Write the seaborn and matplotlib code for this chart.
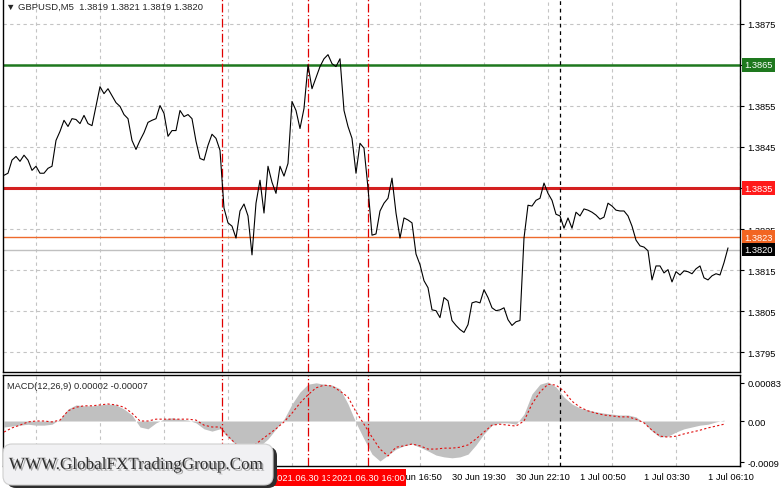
import numpy as np
import pandas as pd
import matplotlib
matplotlib.use("Agg")
import matplotlib.pyplot as plt
import matplotlib.dates as mdates
import matplotlib.patheffects as pe
import matplotlib.transforms as mtransforms
from matplotlib.patches import FancyBboxPatch, Rectangle
import seaborn as sns

sns.set_style("white")
plt.rcParams["font.family"] = ["Liberation Sans", "DejaVu Sans"]
plt.rcParams["axes.unicode_minus"] = False

# ---- data ----
symbol_title = "\u25bc GBPUSD,M5  1.3819 1.3821 1.3819 1.3820"
macd_title = "MACD(12,26,9) 0.00002 -0.00007"

price_start = "2021-06-30 00:50"
price_step = "10min"
close = [
    1.38381, 1.38386, 1.38418, 1.38427, 1.38415, 1.38430, 1.38418, 1.38393, 1.38403, 1.38386,
    1.38386, 1.38398, 1.38403, 1.38466, 1.38488, 1.38515, 1.38500, 1.38519, 1.38517, 1.38507,
    1.38527, 1.38507, 1.38502, 1.38549, 1.38597, 1.38580, 1.38592, 1.38575, 1.38558, 1.38549,
    1.38529, 1.38519, 1.38466, 1.38444, 1.38466, 1.38485, 1.38510, 1.38515, 1.38519, 1.38551,
    1.38532, 1.38476, 1.38490, 1.38490, 1.38539, 1.38524, 1.38529, 1.38519, 1.38464, 1.38422,
    1.38418, 1.38454, 1.38481, 1.38471, 1.38442, 1.38301, 1.38265, 1.38257, 1.38228, 1.38294,
    1.38311, 1.38282, 1.38187, 1.38313, 1.38369, 1.38289, 1.38403, 1.38364, 1.38337, 1.38403,
    1.38379, 1.38410, 1.38561, 1.38539, 1.38495, 1.38544, 1.38650, 1.38592, 1.38619, 1.38646,
    1.38665, 1.38675, 1.38653, 1.38646, 1.38665, 1.38539, 1.38500, 1.38471, 1.38386, 1.38459,
    1.38447, 1.38350, 1.38235, 1.38238, 1.38294, 1.38313, 1.38325, 1.38374, 1.38289, 1.38228,
    1.38277, 1.38272, 1.38265, 1.38189, 1.38163, 1.38124, 1.38107, 1.38053, 1.38051, 1.38034,
    1.38083, 1.38075, 1.38027, 1.38015, 1.38005, 1.37998, 1.38017, 1.38070, 1.38073, 1.38070,
    1.38102, 1.38083, 1.38058, 1.38051, 1.38053, 1.38058, 1.38029, 1.38015, 1.38024, 1.38027,
    1.38228, 1.38308, 1.38306, 1.38320, 1.38325, 1.38362, 1.38337, 1.38320, 1.38286, 1.38282,
    1.38252, 1.38277, 1.38252, 1.38291, 1.38282, 1.38299, 1.38296, 1.38291, 1.38284, 1.38274,
    1.38279, 1.38313, 1.38306, 1.38296, 1.38294, 1.38294, 1.38282, 1.38257, 1.38223, 1.38209,
    1.38206, 1.38197, 1.38126, 1.38160, 1.38160, 1.38143, 1.38151, 1.38121, 1.38146, 1.38138,
    1.38148, 1.38146, 1.38141, 1.38153, 1.38160, 1.38131, 1.38126, 1.38136, 1.38141, 1.38138,
    1.38168, 1.38204,
]

# MACD main (histogram) and signal, in units of 1e-5
macd_step = "20min"
macd_main = [
    -13, -11, -9, -7, -9, -9, -7, 4, 26, 35,
    33, 33, 35, 37, 35, 26, 13, -13, -17, -4,
    4, 7, 4, 2, -4, -17, -22, -17, -35, -52,
    -61, -65, -54, -39, -17, 4, 37, 63, 80, 83,
    80, 78, 70, 37, -4, -39, -72, -87, -74, -61,
    -54, -50, -57, -65, -74, -78, -80, -78, -72, -52,
    -28, -9, -4, -4, -7, 15, 59, 80, 85, 74,
    52, 37, 28, 24, 20, 17, 15, 13, 13, 9,
    -4, -22, -35, -33, -24, -17, -13, -9, -7, -2,
    2,
]
macd_signal = [
    -24, -15, -9, -2, 0, 0, -2, 2, 22, 30,
    33, 33, 35, 37, 35, 30, 17, 0, 0, 4,
    4, 4, 4, 4, 2, -9, -13, -13, -33, -50,
    -61, -57, -43, -30, -17, -2, 17, 39, 57, 72,
    78, 76, 65, 52, 20, -7, -35, -61, -76, -57,
    -54, -50, -54, -61, -61, -59, -59, -57, -52, -39,
    -24, -9, -7, -9, -11, 0, 37, 63, 80, 78,
    65, 43, 30, 22, 17, 13, 11, 9, 9, 4,
    -4, -20, -33, -35, -33, -28, -24, -20, -15, -11,
    -7,
]

price_ticks = [1.3795, 1.3805, 1.3815, 1.3825, 1.3835, 1.3845, 1.3855, 1.3865, 1.3875]
macd_ticks = [-0.0009, 0.0, 0.00083]
macd_tick_labels = ["-0.0009", "0.00", "0.00083"]

tick_labels = ["30 Jun 00:50", "30 Jun 03:30", "30 Jun 06:10", "30 Jun 08:50",
               "30 Jun 11:30", "30 Jun 14:10", "30 Jun 16:50", "30 Jun 19:30",
               "30 Jun 22:10", "1 Jul 00:50", "1 Jul 03:30", "1 Jul 06:10"]

# horizontal levels: price, line colour, label box colour, line width
levels = [
    (1.3865, "#1e781e", "#1e781e", 1.8),
    (1.3835, "#d42020", "#ff1a1a", 2.2),
    (1.3823, "#ee6a2c", "#f26522", 1.0),
    (1.3820, "#c0c0c0", "#000000", 1.0),
]
red_vlines = ["2021-06-30 09:55", "2021-06-30 13:30", "2021-06-30 16:00"]
black_vline = "2021-07-01 00:00"

FS = 6.7

# ---- frame ----
price_time = pd.date_range(price_start, periods=len(close), freq=price_step)
macd_time = pd.date_range(price_start, periods=len(macd_main), freq=macd_step)
df_price = pd.DataFrame({"time": price_time, "close": close})
df_macd = pd.DataFrame({"time": macd_time,
                        "main": np.array(macd_main) * 1e-5,
                        "signal": np.array(macd_signal) * 1e-5})

t0 = pd.Timestamp(price_start)
xlim = (mdates.date2num(t0 - pd.Timedelta("150s")),
        mdates.date2num(t0 + pd.Timedelta("1840min")))
tick_pos = mdates.date2num(pd.date_range(price_start, periods=len(tick_labels), freq="160min").to_pydatetime())
grid_pos = mdates.date2num(pd.date_range(price_start, periods=24, freq="80min").to_pydatetime())

fig = plt.figure(figsize=(7.81, 4.89), dpi=100, facecolor="white")
ax = fig.add_axes([3 / 781, 1 - 373 / 489, 737 / 781, 373 / 489])
axm = fig.add_axes([3 / 781, 1 - 467 / 489, 737 / 781, 91 / 489])

grid_kw = dict(color="#c4c4c4", linestyle=(0, (3, 3)), linewidth=0.8)

# price panel
for price, lc, bc, lw in levels:
    ax.axhline(price, color=lc, lw=lw, zorder=1)
sns.lineplot(data=df_price, x="time", y="close", ax=ax, color="black", lw=0.8, zorder=3)

# macd panel
axm.fill_between(mdates.date2num(df_macd["time"].dt.to_pydatetime()), 0, df_macd["main"],
                 color="#c0c0c0", lw=0, zorder=1)
sns.lineplot(data=df_macd, x="time", y="signal", ax=axm, color="#e01010",
             lw=0.8, linestyle=(0, (2, 2)), zorder=3)

for a in (ax, axm):
    for t in red_vlines:
        a.axvline(mdates.date2num(pd.Timestamp(t)), color="#e00000", lw=0.9,
                  linestyle=(0, (7, 2, 1, 2)), zorder=2)
    a.axvline(mdates.date2num(pd.Timestamp(black_vline)), color="black", lw=0.9,
              linestyle=(0, (3, 3)), zorder=2)
    a.set_xlim(*xlim)
    a.set_xticks(tick_pos)
    a.set_xticks(grid_pos, minor=True)
    a.grid(which="minor", axis="x", **grid_kw)
    a.grid(which="major", axis="x", visible=False)
    a.tick_params(axis="x", which="minor", length=0)
    a.set_xlabel("")
    a.set_ylabel("")
    a.yaxis.tick_right()
    a.tick_params(axis="y", length=3, width=0.8, direction="out", labelsize=FS, pad=2.5, colors="black")
    for s in a.spines.values():
        s.set_color("black")
        s.set_linewidth(1.0)
ax.spines["top"].set_visible(False)

ax.set_ylim(1.379015, 1.388107)
ax.set_yticks(price_ticks)
ax.set_yticklabels([f"{p:.4f}" for p in price_ticks])
ax.grid(which="major", axis="y", **grid_kw)
ax.tick_params(axis="x", which="major", length=0, labelbottom=False)

axm.set_ylim(-0.000978, 0.001)
axm.set_yticks(macd_ticks)
axm.set_yticklabels(macd_tick_labels)
axm.grid(which="major", axis="y", visible=False)
axm.set_xticklabels(tick_labels, ha="left", fontsize=FS)
axm.tick_params(axis="x", which="major", length=3, width=0.8, direction="out", pad=1.5, colors="black")

# level price tags on the right scale
for price, lc, bc, lw in levels:
    ax.annotate(f"{price:.4f}", xy=(1, price), xycoords=("axes fraction", "data"),
                xytext=(3, 0), textcoords="offset points", ha="left", va="center",
                fontsize=FS, color="white", annotation_clip=False, zorder=5,
                bbox=dict(boxstyle="square,pad=0.25", fc=bc, ec="none"))

# vertical line time tags under the time scale (red boxes ~75 px wide, 17 px tall),
# each later tag stacked over the previous one
tag_tr = mtransforms.blended_transform_factory(axm.transData, axm.transAxes)
half_w = pd.Timedelta("94min")
for i, t in enumerate(red_vlines):
    ts = pd.Timestamp(t)
    x0 = mdates.date2num(ts - half_w)
    x1 = mdates.date2num(ts + half_w)
    axm.add_patch(Rectangle((x0, -20 / 91), x1 - x0, 17 / 91, transform=tag_tr,
                            fc="#ff0000", ec="none", clip_on=False, zorder=6 + 2 * i))
    axm.text(mdates.date2num(ts), -11.5 / 91, ts.strftime("%Y.%m.%d %H:%M"), transform=tag_tr,
             ha="center", va="center", fontsize=FS, color="white", clip_on=False, zorder=7 + 2 * i)

ax.text(0.004, 0.992, symbol_title, transform=ax.transAxes, ha="left", va="top", fontsize=6.8)
axm.text(0.005, 0.93, macd_title, transform=axm.transAxes, ha="left", va="top", fontsize=FS)

# watermark badge
shadow = FancyBboxPatch((0.07, 0.0), 2.70, 0.41, boxstyle="round,pad=0,rounding_size=0.09",
                        transform=fig.dpi_scale_trans, fc="#2e2e2e", ec="none", zorder=20)
badge = FancyBboxPatch((0.03, 0.03), 2.70, 0.41, boxstyle="round,pad=0,rounding_size=0.09",
                       transform=fig.dpi_scale_trans, fc="#f1f1f3", ec="#cfcfcf", lw=0.8, zorder=21)
fig.patches.extend([shadow, badge])
fig.text(1.36 / 7.81, 1 - 466 / 489, "WWW.GlobalFXTradingGroup.Com", ha="center", va="center",
         fontsize=12.3, family=["Liberation Serif", "DejaVu Serif"], color="#2f2f2f", zorder=22,
         path_effects=[pe.withSimplePatchShadow(offset=(1.2, -1.2), shadow_rgbFace="#777777", alpha=0.6)])

fig.savefig("out.png", dpi=100, facecolor="white")
